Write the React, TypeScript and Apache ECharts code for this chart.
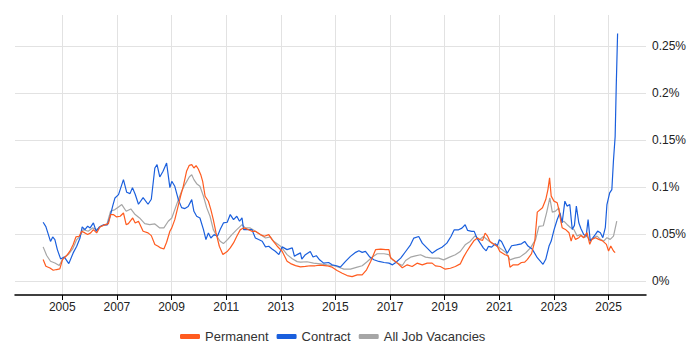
import React, { useEffect, useRef } from "react";
import * as echarts from "echarts";

// [decimal year, % of vacancies]
const permanent: [number, number][] = [
  [2004.30, 0.0227], [2004.40, 0.0156], [2004.55, 0.0138], [2004.67, 0.0113], [2004.79, 0.0121], [2004.91, 0.0128],
  [2005.01, 0.0227], [2005.16, 0.0270], [2005.28, 0.0316], [2005.40, 0.0387], [2005.50, 0.0468], [2005.62, 0.0475],
  [2005.71, 0.0528], [2005.83, 0.0511], [2005.93, 0.0493], [2006.04, 0.0511], [2006.14, 0.0546], [2006.26, 0.0511],
  [2006.38, 0.0574], [2006.57, 0.0599], [2006.69, 0.0610], [2006.77, 0.0706], [2006.87, 0.0706], [2006.99, 0.0681],
  [2007.12, 0.0688], [2007.24, 0.0723], [2007.34, 0.0599], [2007.42, 0.0610], [2007.58, 0.0670], [2007.67, 0.0617],
  [2007.79, 0.0635], [2007.96, 0.0528], [2008.14, 0.0511], [2008.26, 0.0482], [2008.39, 0.0387], [2008.51, 0.0369],
  [2008.60, 0.0351], [2008.72, 0.0340], [2008.82, 0.0411], [2008.94, 0.0528], [2009.01, 0.0564], [2009.12, 0.0652],
  [2009.21, 0.0759], [2009.33, 0.0901], [2009.43, 0.1007], [2009.55, 0.1167], [2009.65, 0.1230], [2009.74, 0.1238],
  [2009.82, 0.1202], [2009.90, 0.1227], [2009.98, 0.1191], [2010.07, 0.1131], [2010.14, 0.1060], [2010.23, 0.0901],
  [2010.35, 0.0848], [2010.44, 0.0759], [2010.53, 0.0652], [2010.63, 0.0511], [2010.75, 0.0369], [2010.88, 0.0280],
  [2010.96, 0.0298], [2011.05, 0.0316], [2011.15, 0.0351], [2011.27, 0.0404], [2011.39, 0.0475], [2011.52, 0.0546],
  [2011.64, 0.0564], [2011.76, 0.0553], [2011.94, 0.0528], [2012.07, 0.0528], [2012.25, 0.0493], [2012.40, 0.0475],
  [2012.56, 0.0493], [2012.68, 0.0440], [2012.87, 0.0369], [2013.05, 0.0316], [2013.23, 0.0209], [2013.36, 0.0184],
  [2013.54, 0.0163], [2013.72, 0.0149], [2013.90, 0.0154], [2014.08, 0.0161], [2014.26, 0.0161], [2014.45, 0.0168],
  [2014.69, 0.0161], [2014.88, 0.0146], [2015.06, 0.0111], [2015.25, 0.0082], [2015.43, 0.0057], [2015.61, 0.0046],
  [2015.80, 0.0064], [2015.98, 0.0064], [2016.14, 0.0118], [2016.29, 0.0207], [2016.47, 0.0332], [2016.66, 0.0339],
  [2016.84, 0.0332], [2016.96, 0.0332], [2017.02, 0.0243], [2017.15, 0.0218], [2017.27, 0.0189], [2017.45, 0.0140],
  [2017.63, 0.0171], [2017.81, 0.0153], [2017.99, 0.0189], [2018.18, 0.0171], [2018.36, 0.0189], [2018.54, 0.0189],
  [2018.66, 0.0160], [2018.84, 0.0153], [2019.02, 0.0125], [2019.21, 0.0135], [2019.39, 0.0153], [2019.57, 0.0181],
  [2019.69, 0.0253], [2019.81, 0.0313], [2019.93, 0.0367], [2020.08, 0.0431], [2020.20, 0.0456], [2020.30, 0.0438],
  [2020.39, 0.0431], [2020.48, 0.0508], [2020.56, 0.0480], [2020.66, 0.0420], [2020.78, 0.0395], [2020.93, 0.0367],
  [2021.02, 0.0313], [2021.21, 0.0278], [2021.33, 0.0267], [2021.39, 0.0146], [2021.51, 0.0171], [2021.69, 0.0171],
  [2021.81, 0.0196], [2021.93, 0.0200], [2022.03, 0.0230], [2022.18, 0.0290], [2022.30, 0.0424], [2022.39, 0.0732],
  [2022.58, 0.0778], [2022.70, 0.0866], [2022.78, 0.0972], [2022.84, 0.1096], [2022.90, 0.0902], [2023.00, 0.0849],
  [2023.12, 0.0831], [2023.18, 0.0760], [2023.24, 0.0654], [2023.30, 0.0566], [2023.42, 0.0548], [2023.55, 0.0513],
  [2023.63, 0.0424], [2023.70, 0.0495], [2023.79, 0.0442], [2023.91, 0.0460], [2023.99, 0.0484], [2024.09, 0.0460],
  [2024.21, 0.0513], [2024.31, 0.0389], [2024.39, 0.0442], [2024.52, 0.0460], [2024.64, 0.0442], [2024.79, 0.0424],
  [2024.92, 0.0389], [2025.00, 0.0318], [2025.08, 0.0371], [2025.18, 0.0318], [2025.24, 0.0301],
];

const contract: [number, number][] = [
  [2004.30, 0.0624], [2004.40, 0.0578], [2004.57, 0.0420], [2004.65, 0.0468], [2004.73, 0.0440], [2004.82, 0.0333],
  [2004.94, 0.0234], [2005.07, 0.0255], [2005.24, 0.0184], [2005.40, 0.0298], [2005.53, 0.0369], [2005.65, 0.0457],
  [2005.73, 0.0574], [2005.83, 0.0546], [2005.93, 0.0582], [2006.02, 0.0564], [2006.14, 0.0617], [2006.24, 0.0528],
  [2006.36, 0.0574], [2006.50, 0.0596], [2006.65, 0.0596], [2006.75, 0.0684], [2006.85, 0.0801], [2006.93, 0.0883],
  [2007.06, 0.0918], [2007.24, 0.1078], [2007.36, 0.0943], [2007.48, 0.0929], [2007.57, 0.0993], [2007.67, 0.0922],
  [2007.79, 0.0816], [2007.96, 0.0887], [2008.14, 0.0816], [2008.26, 0.0869], [2008.39, 0.1202], [2008.47, 0.1238],
  [2008.57, 0.1106], [2008.69, 0.1167], [2008.82, 0.1255], [2008.94, 0.0993], [2009.01, 0.1060], [2009.12, 0.1007],
  [2009.25, 0.0865], [2009.37, 0.0780], [2009.49, 0.0770], [2009.61, 0.0791], [2009.74, 0.0865], [2009.82, 0.0741],
  [2009.92, 0.0688], [2010.04, 0.0670], [2010.17, 0.0546], [2010.26, 0.0440], [2010.35, 0.0511], [2010.44, 0.0457],
  [2010.56, 0.0493], [2010.68, 0.0475], [2010.78, 0.0546], [2010.90, 0.0617], [2011.04, 0.0624], [2011.15, 0.0706],
  [2011.27, 0.0652], [2011.39, 0.0688], [2011.49, 0.0635], [2011.58, 0.0670], [2011.64, 0.0546], [2011.76, 0.0546],
  [2011.94, 0.0546], [2012.07, 0.0457], [2012.19, 0.0440], [2012.32, 0.0422], [2012.44, 0.0362], [2012.56, 0.0369],
  [2012.68, 0.0340], [2012.80, 0.0316], [2012.93, 0.0280], [2013.05, 0.0362], [2013.23, 0.0333], [2013.42, 0.0351],
  [2013.50, 0.0262], [2013.60, 0.0280], [2013.72, 0.0298], [2013.77, 0.0232], [2013.90, 0.0279], [2014.08, 0.0314],
  [2014.18, 0.0254], [2014.30, 0.0268], [2014.42, 0.0225], [2014.57, 0.0189], [2014.75, 0.0196], [2014.88, 0.0171],
  [2015.04, 0.0161], [2015.18, 0.0146], [2015.37, 0.0207], [2015.55, 0.0261], [2015.74, 0.0304], [2015.86, 0.0321],
  [2015.98, 0.0304], [2016.10, 0.0314], [2016.26, 0.0254], [2016.41, 0.0225], [2016.59, 0.0207], [2016.78, 0.0196],
  [2016.96, 0.0189], [2017.09, 0.0171], [2017.21, 0.0196], [2017.39, 0.0242], [2017.57, 0.0313], [2017.75, 0.0384],
  [2017.87, 0.0456], [2018.05, 0.0473], [2018.18, 0.0402], [2018.36, 0.0349], [2018.54, 0.0295], [2018.72, 0.0331],
  [2018.90, 0.0359], [2019.08, 0.0402], [2019.23, 0.0473], [2019.35, 0.0544], [2019.51, 0.0544], [2019.63, 0.0562],
  [2019.75, 0.0598], [2019.84, 0.0537], [2019.99, 0.0527], [2020.08, 0.0527], [2020.18, 0.0456], [2020.30, 0.0402],
  [2020.42, 0.0349], [2020.52, 0.0320], [2020.60, 0.0367], [2020.72, 0.0359], [2020.85, 0.0395], [2020.93, 0.0374],
  [2021.00, 0.0438], [2021.08, 0.0420], [2021.17, 0.0367], [2021.29, 0.0295], [2021.45, 0.0374], [2021.63, 0.0384],
  [2021.81, 0.0395], [2021.93, 0.0420], [2022.05, 0.0371], [2022.21, 0.0336], [2022.39, 0.0247], [2022.60, 0.0177],
  [2022.70, 0.0230], [2022.82, 0.0371], [2022.90, 0.0424], [2023.00, 0.0541], [2023.12, 0.0654], [2023.22, 0.0725],
  [2023.30, 0.0619], [2023.40, 0.0849], [2023.48, 0.0796], [2023.58, 0.0813], [2023.67, 0.0548], [2023.75, 0.0591],
  [2023.82, 0.0796], [2023.91, 0.0619], [2023.99, 0.0555], [2024.09, 0.0495], [2024.18, 0.0477], [2024.25, 0.0654],
  [2024.33, 0.0424], [2024.43, 0.0460], [2024.52, 0.0495], [2024.60, 0.0530], [2024.70, 0.0513], [2024.79, 0.0460],
  [2024.88, 0.0566], [2024.94, 0.0813], [2025.04, 0.0937], [2025.12, 0.0972], [2025.18, 0.1287], [2025.24, 0.1535],
  [2025.28, 0.2065], [2025.33, 0.2634],
];

const allJobs: [number, number][] = [
  [2004.30, 0.0362], [2004.43, 0.0270], [2004.57, 0.0209], [2004.73, 0.0191], [2004.89, 0.0163], [2005.04, 0.0245],
  [2005.22, 0.0280], [2005.38, 0.0340], [2005.53, 0.0440], [2005.65, 0.0475], [2005.77, 0.0546], [2005.95, 0.0528],
  [2006.11, 0.0564], [2006.26, 0.0546], [2006.44, 0.0589], [2006.63, 0.0599], [2006.77, 0.0741], [2006.93, 0.0759],
  [2007.06, 0.0787], [2007.18, 0.0812], [2007.34, 0.0741], [2007.51, 0.0766], [2007.67, 0.0706], [2007.83, 0.0670],
  [2008.02, 0.0610], [2008.20, 0.0599], [2008.39, 0.0606], [2008.57, 0.0564], [2008.72, 0.0564], [2008.88, 0.0635],
  [2009.01, 0.0670], [2009.12, 0.0759], [2009.25, 0.0865], [2009.37, 0.0954], [2009.49, 0.1025], [2009.65, 0.1106],
  [2009.74, 0.1131], [2009.82, 0.1078], [2009.92, 0.1035], [2010.04, 0.1007], [2010.17, 0.0901], [2010.29, 0.0777],
  [2010.41, 0.0688], [2010.53, 0.0546], [2010.66, 0.0475], [2010.78, 0.0422], [2010.90, 0.0397], [2011.05, 0.0440],
  [2011.21, 0.0493], [2011.39, 0.0546], [2011.58, 0.0599], [2011.70, 0.0564], [2011.88, 0.0564], [2012.07, 0.0528],
  [2012.25, 0.0493], [2012.44, 0.0457], [2012.62, 0.0468], [2012.74, 0.0422], [2012.99, 0.0369], [2013.23, 0.0280],
  [2013.42, 0.0235], [2013.60, 0.0205], [2013.72, 0.0200], [2013.96, 0.0204], [2014.20, 0.0189], [2014.45, 0.0182],
  [2014.69, 0.0171], [2014.94, 0.0161], [2015.12, 0.0146], [2015.31, 0.0125], [2015.55, 0.0125], [2015.80, 0.0146],
  [2015.98, 0.0161], [2016.17, 0.0207], [2016.35, 0.0254], [2016.53, 0.0289], [2016.78, 0.0289], [2016.96, 0.0279],
  [2017.09, 0.0225], [2017.27, 0.0189], [2017.45, 0.0164], [2017.57, 0.0217], [2017.75, 0.0253], [2017.93, 0.0267],
  [2018.12, 0.0278], [2018.30, 0.0253], [2018.54, 0.0242], [2018.78, 0.0242], [2018.96, 0.0224], [2019.18, 0.0253],
  [2019.39, 0.0278], [2019.57, 0.0313], [2019.75, 0.0384], [2019.93, 0.0420], [2020.11, 0.0480], [2020.27, 0.0438],
  [2020.42, 0.0473], [2020.56, 0.0438], [2020.72, 0.0402], [2020.90, 0.0374], [2021.08, 0.0338], [2021.24, 0.0302],
  [2021.39, 0.0224], [2021.57, 0.0242], [2021.75, 0.0253], [2021.97, 0.0300], [2022.15, 0.0354], [2022.33, 0.0442],
  [2022.45, 0.0580], [2022.61, 0.0587], [2022.73, 0.0725], [2022.85, 0.0884], [2022.94, 0.0732], [2023.06, 0.0743],
  [2023.18, 0.0778], [2023.27, 0.0619], [2023.36, 0.0636], [2023.48, 0.0601], [2023.61, 0.0566], [2023.73, 0.0548],
  [2023.85, 0.0477], [2023.97, 0.0495], [2024.09, 0.0460], [2024.21, 0.0477], [2024.33, 0.0424], [2024.45, 0.0460],
  [2024.58, 0.0477], [2024.70, 0.0442], [2024.82, 0.0424], [2024.94, 0.0460], [2025.06, 0.0442], [2025.18, 0.0477],
  [2025.30, 0.0636],
];

const yearTicks = [2005, 2007, 2009, 2011, 2013, 2015, 2017, 2019, 2021, 2023, 2025];
const percentTicks = [0, 0.05, 0.1, 0.15, 0.2, 0.25];
const seriesNames = ["Permanent", "Contract", "All Job Vacancies"];
const seriesColors = ["#FF5B1F", "#1A5FDD", "#A6A6A6"];

const FONT = "'Liberation Sans', Arial, sans-serif";

export default function App() {
  const ref = useRef<HTMLDivElement>(null);

  useEffect(() => {
    if (!ref.current) return;
    const chart = echarts.init(ref.current, undefined, { renderer: "svg" });
    const datasets = [permanent, contract, allJobs];
    chart.setOption({
      animation: false,
      backgroundColor: "#ffffff",
      grid: { left: 15, right: 54, top: 15, bottom: 55 },
      legend: {
        left: 175,
        top: 325,
        icon: "roundRect",
        itemWidth: 20,
        itemHeight: 5,
        itemGap: 8,
        textStyle: { fontFamily: FONT, fontSize: 13, color: "#333" },
        data: seriesNames,
      },
      xAxis: {
        type: "value",
        min: 2003.27,
        max: 2026.37,
        axisLine: { show: true, onZero: false, lineStyle: { color: "#000", width: 1.5 } },
        axisTick: { show: true, customValues: yearTicks, length: 5, lineStyle: { color: "#000" } },
        axisLabel: {
          customValues: yearTicks,
          formatter: (v: number) => String(Math.round(v)),
          fontFamily: FONT,
          fontSize: 12,
          color: "#222",
          margin: 6,
        },
        splitLine: { show: true, lineStyle: { color: "#e2e2e2", width: 1 } },
      },
      yAxis: {
        type: "value",
        position: "right",
        min: -0.015,
        max: 0.283,
        axisLine: { show: false },
        axisTick: { show: false, customValues: percentTicks },
        axisLabel: {
          customValues: percentTicks,
          formatter: (v: number) => `${parseFloat(v.toFixed(3))}%`,
          fontFamily: FONT,
          fontSize: 12,
          color: "#222",
          margin: 6,
        },
        splitLine: { show: true, lineStyle: { color: "#e2e2e2", width: 1 } },
      },
      series: datasets.map((d, i) => ({
        name: seriesNames[i],
        type: "line",
        data: d,
        showSymbol: false,
        symbol: "none",
        color: seriesColors[i],
        lineStyle: { width: 1.2, color: seriesColors[i] },
        z: i === 2 ? 1 : 3 - i,
      })),
    });
    return () => chart.dispose();
  }, []);

  return (
    <div
      ref={ref}
      style={{ position: "fixed", left: 0, top: 0, width: 700, height: 350 }}
    />
  );
}
